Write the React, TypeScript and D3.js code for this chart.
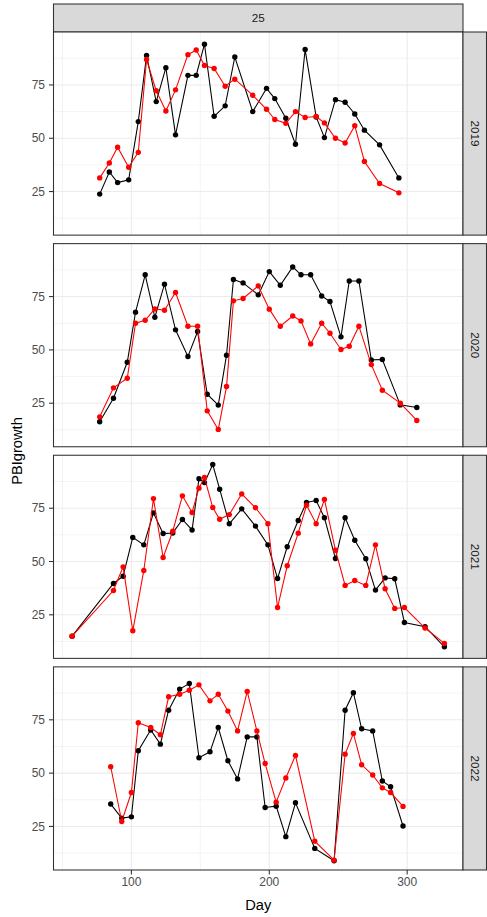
import React from "react";
import * as d3 from "d3";

const years = ["2019", "2020", "2021", "2022"];
const facetLabel = "25";

const days2019 = [77, 84, 90, 98, 105, 111, 118, 125, 132, 141, 147, 153, 160, 168, 175, 188, 198, 204, 212, 219, 226, 234, 240, 248, 255, 262, 269, 280, 294];
const black2019 = [23.8, 34.2, 29.2, 30.5, 57.8, 88.8, 67.2, 83.1, 51.6, 79.5, 79.5, 94.1, 60.3, 65.2, 88.1, 62.5, 73.4, 68.6, 59.4, 47.2, 91.6, 60.0, 50.3, 68.1, 66.9, 61.4, 53.8, 46.9, 31.4];
const red2019 = [31.4, 38.4, 45.8, 36.4, 43.4, 86.9, 72.3, 62.8, 72.7, 89.2, 91.4, 84.1, 82.7, 74.4, 77.7, 70.2, 63.6, 58.8, 57.0, 62.5, 59.7, 60.2, 57.2, 50.0, 47.8, 55.9, 39.1, 28.8, 24.4];

const days2020 = [77, 87, 97, 103, 110, 117, 124, 132, 141, 148, 155, 163, 169, 174, 181, 192, 200, 208, 217, 223, 230, 238, 244, 252, 258, 265, 274, 282, 295, 307];
const black2020 = [16.3, 27.3, 44.2, 67.7, 85.2, 65.3, 80.8, 59.4, 46.9, 58.6, 29.2, 24.1, 47.5, 83.0, 81.4, 75.8, 86.7, 80.3, 88.9, 85.2, 85.2, 75.3, 72.7, 56.1, 82.3, 82.3, 45.3, 45.5, 24.2, 23.0];
const red2020 = [18.6, 32.2, 36.7, 62.5, 63.9, 69.2, 68.6, 76.9, 61.1, 61.1, 21.4, 12.7, 32.8, 73.0, 74.1, 80.0, 69.1, 61.1, 65.9, 63.6, 52.8, 62.5, 57.8, 50.2, 51.7, 61.1, 43.1, 31.1, 25.0, 16.9];

const days2021 = [57, 87, 94, 101, 109, 116, 123, 130, 137, 144, 149, 153, 159, 164, 171, 180, 190, 199, 206, 213, 221, 227, 234, 240, 248, 255, 262, 270, 277, 284, 291, 298, 313, 327];
const black2021 = [15.0, 39.7, 43.1, 61.3, 57.8, 72.8, 63.1, 63.4, 69.7, 64.8, 88.8, 87.0, 95.5, 83.9, 67.7, 74.7, 66.6, 57.8, 42.0, 56.9, 69.2, 77.7, 78.6, 70.5, 51.4, 70.5, 60.0, 51.3, 36.6, 42.3, 41.9, 21.4, 19.4, 10.0];
const red2021 = [15.0, 36.4, 47.5, 17.5, 45.8, 79.5, 51.9, 64.2, 80.8, 73.0, 84.4, 89.4, 75.3, 69.8, 72.0, 81.7, 75.2, 67.7, 28.4, 48.0, 63.3, 76.4, 67.7, 79.1, 55.3, 38.8, 41.1, 38.8, 57.8, 37.2, 28.0, 28.4, 18.8, 11.6];

const days2022 = [85, 93, 100, 105, 114, 121, 127, 135, 142, 149, 157, 163, 170, 177, 184, 191, 197, 205, 212, 219, 233, 247, 255, 261, 267, 275, 282, 288, 297];
const black2022 = [35.5, 28.9, 29.5, 60.5, 70.2, 63.6, 79.5, 89.4, 92.0, 57.2, 60.0, 71.4, 55.8, 47.3, 67.0, 67.0, 33.9, 34.5, 20.2, 36.1, 14.7, 8.9, 79.5, 87.7, 70.8, 69.8, 46.3, 43.6, 25.2];
const red2022 = [53.0, 27.3, 40.9, 73.6, 71.4, 68.0, 85.8, 87.0, 88.9, 91.4, 83.9, 87.0, 79.1, 69.8, 88.3, 69.8, 54.5, 36.4, 47.7, 58.3, 18.1, 9.2, 58.9, 68.6, 53.9, 49.1, 43.1, 40.9, 34.4];

const xTicks = [100, 200, 300];
const yTicks = [25, 50, 75];

const panels = [
  { year: years[0], days: days2019, black: black2019, red: red2019 },
  { year: years[1], days: days2020, black: black2020, red: red2020 },
  { year: years[2], days: days2021, black: black2021, red: red2021 },
  { year: years[3], days: days2022, black: black2022, red: red2022 },
];

const W = 487;
const H = 917;
const left = 53.5;
const right = 463;
const top = 32;
const bottom = 870;
const gap = 8.5;
const stripTop = 4;
const stripRight = 486.5;
const panelH = (bottom - top - gap * 3) / 4;

const font = "Liberation Sans, Arial, Helvetica, sans-serif";

function expand(ext: [number, number]): [number, number] {
  const r = ext[1] - ext[0];
  return [ext[0] - 0.05 * r, ext[1] + 0.05 * r];
}

export default function App() {
  const allDays = panels.flatMap((p) => p.days);
  const allVals = panels.flatMap((p) => [...p.black, ...p.red]);
  const x = d3.scaleLinear().domain(expand(d3.extent(allDays) as [number, number])).range([left, right]);
  const yDom = expand(d3.extent(allVals) as [number, number]);
  const xMinor = d3.range(Math.ceil(x.domain()[0] / 50) * 50, x.domain()[1], 50).filter((v) => !xTicks.includes(v));
  const yMinor = [12.5, 37.5, 62.5, 87.5];

  return (
    <svg width={W} height={H} style={{ position: "absolute", left: 0, top: 0, background: "#fff" }} fontFamily={font}>
      <rect x={0} y={0} width={W} height={H} fill="#fff" />
      <rect x={left} y={stripTop} width={right - left} height={top - stripTop} fill="#D9D9D9" stroke="#333333" strokeWidth={1.07} />
      <text x={(left + right) / 2} y={(stripTop + top) / 2} dy="0.35em" textAnchor="middle" fontSize={11.7} fill="#1A1A1A">{facetLabel}</text>
      {panels.map((p, i) => {
        const py0 = top + i * (panelH + gap);
        const py1 = py0 + panelH;
        const y = d3.scaleLinear().domain(yDom).range([py1, py0]);
        const line = d3.line<[number, number]>().x((d) => x(d[0])).y((d) => y(d[1]));
        const bl = p.days.map((d, k) => [d, p.black[k]] as [number, number]);
        const rd = p.days.map((d, k) => [d, p.red[k]] as [number, number]);
        return (
          <g key={p.year}>
            <rect x={left} y={py0} width={right - left} height={panelH} fill="#fff" />
            {yMinor.map((v) => (
              <line key={"ym" + v} x1={left} x2={right} y1={y(v)} y2={y(v)} stroke="#EBEBEB" strokeWidth={0.53} />
            ))}
            {xMinor.map((v) => (
              <line key={"xm" + v} x1={x(v)} x2={x(v)} y1={py0} y2={py1} stroke="#EBEBEB" strokeWidth={0.53} />
            ))}
            {yTicks.map((v) => (
              <line key={"yg" + v} x1={left} x2={right} y1={y(v)} y2={y(v)} stroke="#EBEBEB" strokeWidth={1.07} />
            ))}
            {xTicks.map((v) => (
              <line key={"xg" + v} x1={x(v)} x2={x(v)} y1={py0} y2={py1} stroke="#EBEBEB" strokeWidth={1.07} />
            ))}
            <path d={line(bl) || ""} fill="none" stroke="#000" strokeWidth={1.07} />
            {bl.map((d, k) => (
              <circle key={"b" + k} cx={x(d[0])} cy={y(d[1])} r={2.7} fill="#000" />
            ))}
            <path d={line(rd) || ""} fill="none" stroke="#FF0000" strokeWidth={1.07} />
            {rd.map((d, k) => (
              <circle key={"r" + k} cx={x(d[0])} cy={y(d[1])} r={2.7} fill="#FF0000" />
            ))}
            <rect x={left} y={py0} width={right - left} height={panelH} fill="none" stroke="#333333" strokeWidth={1.07} />
            {yTicks.map((v) => (
              <g key={"yt" + v}>
                <line x1={left - 4.5} x2={left} y1={y(v)} y2={y(v)} stroke="#333333" strokeWidth={1.07} />
                <text x={left - 8.5} y={y(v)} dy="0.35em" textAnchor="end" fontSize={12} fill="#4D4D4D">{v}</text>
              </g>
            ))}
            <rect x={right} y={py0} width={stripRight - right} height={panelH} fill="#D9D9D9" stroke="#333333" strokeWidth={1.07} />
            <text
              transform={`translate(${(right + stripRight) / 2},${(py0 + py1) / 2}) rotate(90)`}
              dy="0.35em"
              textAnchor="middle"
              fontSize={11.7}
              fill="#1A1A1A"
            >
              {p.year}
            </text>
          </g>
        );
      })}
      {xTicks.map((v) => (
        <g key={"xt" + v}>
          <line x1={x(v)} x2={x(v)} y1={bottom} y2={bottom + 4.5} stroke="#333333" strokeWidth={1.07} />
          <text x={x(v)} y={bottom + 7} dy="0.75em" textAnchor="middle" fontSize={12} fill="#4D4D4D">{v}</text>
        </g>
      ))}
      <text x={(left + right) / 2} y={910} textAnchor="middle" fontSize={14.67} fill="#000">Day</text>
      <text transform={`translate(${22},${(top + bottom) / 2}) rotate(-90)`} textAnchor="middle" fontSize={14.67} fill="#000">PBIgrowth</text>
    </svg>
  );
}
